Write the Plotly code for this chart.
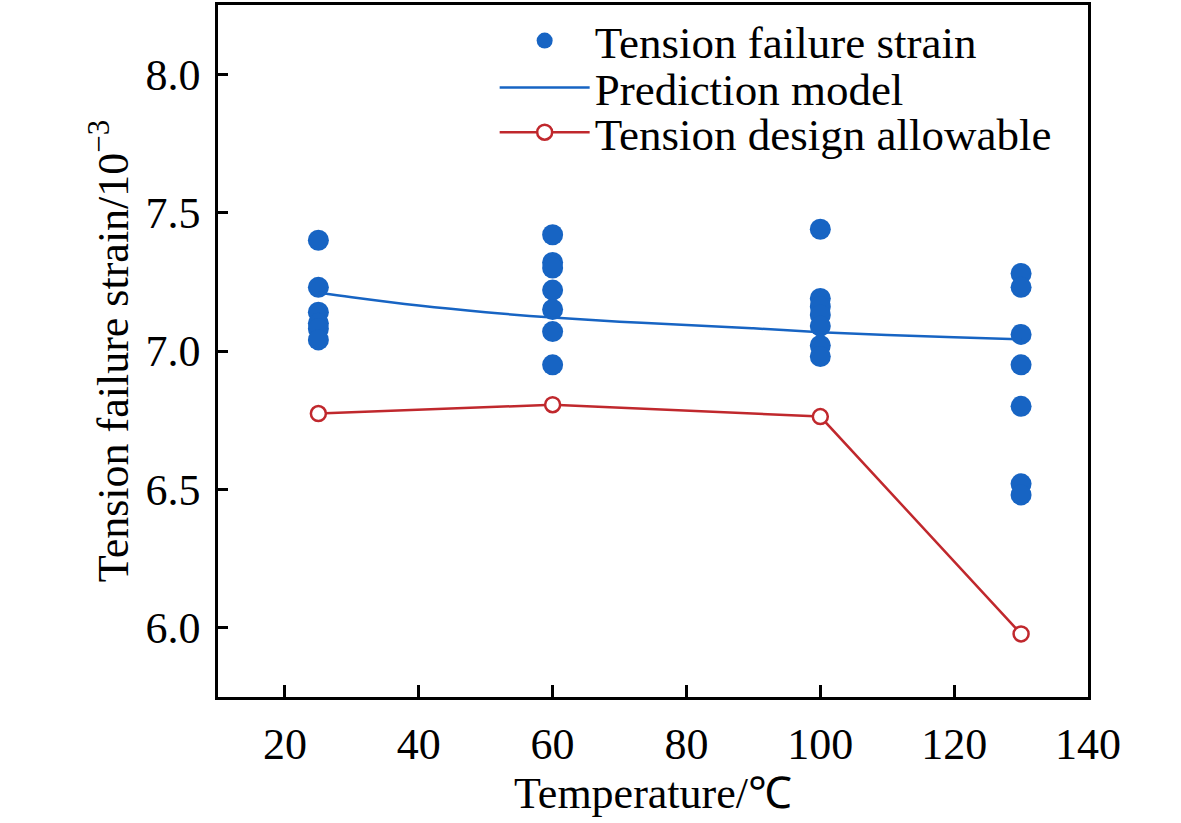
import plotly.graph_objects as go

# measured tension failure strain (10^-3) at each temperature
temp_25 = [7.40, 7.23, 7.14, 7.10, 7.08, 7.04]
temp_60 = [7.42, 7.32, 7.30, 7.22, 7.15, 7.07, 6.95]
temp_100 = [7.44, 7.19, 7.16, 7.13, 7.09, 7.02, 6.98]
temp_130 = [7.28, 7.23, 7.06, 6.95, 6.80, 6.52, 6.48]

test_x = [25] * len(temp_25) + [60] * len(temp_60) + [100] * len(temp_100) + [130] * len(temp_130)
test_y = temp_25 + temp_60 + temp_100 + temp_130

# prediction model curve
model_x = [25, 30, 40, 50, 60, 70, 80, 90, 100, 110, 120, 130]
model_y = [7.211, 7.194, 7.164, 7.140, 7.121, 7.106, 7.094, 7.082, 7.068, 7.058, 7.050, 7.042]

# design allowable
allow_x = [25, 60, 100, 130]
allow_y = [6.774, 6.806, 6.763, 5.978]

BLUE = "#1764c3"
RED = "#c0282d"
FONT = "Liberation Serif"

fig = go.Figure()
fig.add_trace(go.Scatter(
    x=test_x, y=test_y, mode="markers", name="Tension failure strain",
    marker=dict(size=21, color=BLUE), legend="legend",
))
fig.add_trace(go.Scatter(
    x=model_x, y=model_y, mode="lines", name="Prediction model",
    line=dict(color=BLUE, width=2.5, shape="spline"), legend="legend2",
))
fig.add_trace(go.Scatter(
    x=allow_x, y=allow_y, mode="lines+markers", name="Tension design allowable",
    line=dict(color=RED, width=2.5),
    marker=dict(size=15, color="white", symbol="circle", line=dict(color=RED, width=2.5)),
    legend="legend3",
))

# one legend per row so the rows can sit as tightly as in the original
leg = dict(xanchor="left", yanchor="middle", x=0.318, bgcolor="rgba(0,0,0,0)",
           font=dict(family=FONT, size=45, color="black"), itemwidth=90)

fig.update_layout(
    width=1181, height=823,
    margin=dict(l=218, r=93, t=2, b=126),
    plot_bgcolor="white", paper_bgcolor="white",
    font=dict(family=FONT, size=44, color="black"),
    showlegend=True,
    legend=dict(leg, y=1 - 36 / 695),
    legend2=dict(leg, y=1 - 83 / 695),
    legend3=dict(leg, y=1 - 128 / 695),
    xaxis=dict(
        range=[10, 140], tickvals=[20, 40, 60, 80, 100, 120, 140],
        ticks="inside", ticklen=12, tickwidth=2.5, tickcolor="black",
        showline=True, linewidth=2.5, linecolor="black", mirror=True,
        showgrid=False, zeroline=False, ticklabelstandoff=6,
        tickfont=dict(family=FONT, size=44),
        title=dict(text="Temperature/℃", font=dict(family=FONT, size=44), standoff=4),
    ),
    yaxis=dict(
        range=[5.75, 8.25], tickvals=[6.0, 6.5, 7.0, 7.5, 8.0], tickformat=".1f",
        ticks="inside", ticklen=10, tickwidth=2.5, tickcolor="black",
        showline=True, linewidth=2.5, linecolor="black", mirror=True,
        showgrid=False, zeroline=False, ticklabelstandoff=6,
        tickfont=dict(family=FONT, size=44),
        title=dict(text="Tension failure strain/10<sup>−3</sup>", font=dict(family=FONT, size=44), standoff=4),
    ),
)

fig.write_html("out.html", config={"displayModeBar": False},
               post_script="document.body.style.margin = '0';")
